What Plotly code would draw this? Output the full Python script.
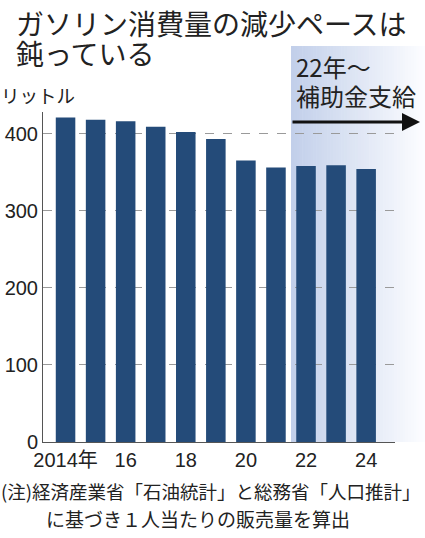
import plotly.graph_objects as go

# ---- data ----
years = [2014, 2015, 2016, 2017, 2018, 2019, 2020, 2021, 2022, 2023, 2024]
litres = [421, 418, 416, 409, 402, 393, 365, 356, 358, 359, 354]
x_tickvals = [2014, 2016, 2018, 2020, 2022, 2024]
x_ticktext = ["2014年", "16", "18", "20", "22", "24"]
y_tickvals = [0, 100, 200, 300, 400]
y_ticktext = ["0", "100", "200", "300", "400"]
subsidy_start = 2021.5

title_lines = ["ガソリン消費量の減少ペースは", "鈍っている"]
unit_label = "リットル"
subsidy_lines = ["22年～", "補助金支給"]
note_line1 = "(注)経済産業省「石油統計」と総務省「人口推計」"
note_line2 = "に基づき１人当たりの販売量を算出"

# ---- layout geometry (pixels) ----
W, H = 425, 538
L, R, T, B = 43, 30, 112, 96
PW, PH = W - L - R, H - T - B


def px2x(p):
    return (p - L) / PW


def py2y(p):
    return (H - B - p) / PH


CJK = "Noto Sans CJK JP, Noto Sans CJK SC, sans-serif"
NUM = "Liberation Sans, Arial, Noto Sans CJK JP, sans-serif"
TXT = "#222222"
BAR = "#244b79"

fig = go.Figure()
fig.add_trace(go.Bar(
    x=years, y=litres, width=0.65,
    marker=dict(color=BAR, line=dict(width=0)),
    hoverinfo="skip",
))

# gradient shading from the subsidy start to right edge
xr = [2013.25, 2024.96]
x0_px = L + (subsidy_start - xr[0]) / (xr[1] - xr[0]) * PW
x1_px = W
n = 48
c0 = (194, 207, 234)
c1 = (252, 253, 255)
shapes = []
for i in range(n):
    t = i / (n - 1)
    col = tuple(round(c0[k] + (c1[k] - c0[k]) * t) for k in range(3))
    a = x0_px + (x1_px - x0_px) * i / n
    b = x0_px + (x1_px - x0_px) * (i + 1) / n + 0.6
    shapes.append(dict(
        type="rect", xref="paper", yref="paper",
        x0=px2x(a), x1=px2x(b), y0=0, y1=py2y(46),
        fillcolor="rgb(%d,%d,%d)" % col, line=dict(width=0), layer="below",
    ))

annotations = []
# title
annotations.append(dict(text=title_lines[0], xref="paper", yref="paper",
                        x=px2x(14), y=py2y(23), xanchor="left", yanchor="middle",
                        showarrow=False, font=dict(family=CJK, size=28, color=TXT)))
annotations.append(dict(text=title_lines[1], xref="paper", yref="paper",
                        x=px2x(14), y=py2y(53), xanchor="left", yanchor="middle",
                        showarrow=False, font=dict(family=CJK, size=28, color=TXT)))
# unit
annotations.append(dict(text=unit_label, xref="paper", yref="paper",
                        x=px2x(-1), y=py2y(95), xanchor="left", yanchor="middle",
                        showarrow=False, font=dict(family=CJK, size=18.5, color=TXT)))
# subsidy label
annotations.append(dict(text=subsidy_lines[0], xref="paper", yref="paper",
                        x=px2x(294), y=py2y(67), xanchor="left", yanchor="middle",
                        showarrow=False, font=dict(family=CJK, size=24, color=TXT)))
annotations.append(dict(text=subsidy_lines[1], xref="paper", yref="paper",
                        x=px2x(294), y=py2y(96), xanchor="left", yanchor="middle",
                        showarrow=False, font=dict(family=CJK, size=24, color=TXT)))
# arrow
annotations.append(dict(text="", xref="paper", yref="paper",
                        x=px2x(420), y=py2y(122), ax=-(420 - x0_px), ay=0,
                        showarrow=True, arrowhead=2, arrowsize=1.2, arrowwidth=3,
                        arrowcolor="#111111"))
# note
annotations.append(dict(text=note_line1, xref="paper", yref="paper",
                        x=px2x(-1), y=py2y(491), xanchor="left", yanchor="middle",
                        showarrow=False, font=dict(family=CJK, size=18.5, color=TXT)))
annotations.append(dict(text=note_line2, xref="paper", yref="paper",
                        x=px2x(44), y=py2y(518), xanchor="left", yanchor="middle",
                        showarrow=False, font=dict(family=CJK, size=19, color=TXT)))

fig.update_layout(
    width=W, height=H,
    margin=dict(l=L, r=R, t=T, b=B, pad=0, autoexpand=False),
    paper_bgcolor="white",
    plot_bgcolor="rgba(0,0,0,0)",
    showlegend=False,
    bargap=0.35,
    shapes=shapes,
    annotations=annotations,
    xaxis=dict(
        range=xr, tickvals=x_tickvals, ticktext=x_ticktext, automargin=False,
        showgrid=False, zeroline=False, showline=True, linecolor="#555555", linewidth=1,
        ticks="", tickfont=dict(family=NUM, size=20, color=TXT), fixedrange=True,
    ),
    yaxis=dict(
        range=[0, 428], tickvals=y_tickvals, ticktext=y_ticktext, automargin=False,
        showgrid=True, gridcolor="#9a9a9a", griddash="dash", gridwidth=1,
        zeroline=False, showline=True, linecolor="#555555", linewidth=1,
        ticks="", tickfont=dict(family=NUM, size=20, color=TXT), fixedrange=True,
    ),
)

fig.write_html(
    "out.html",
    config={"displayModeBar": False},
    post_script="document.body.style.margin='0';document.body.style.overflow='hidden';",
)
